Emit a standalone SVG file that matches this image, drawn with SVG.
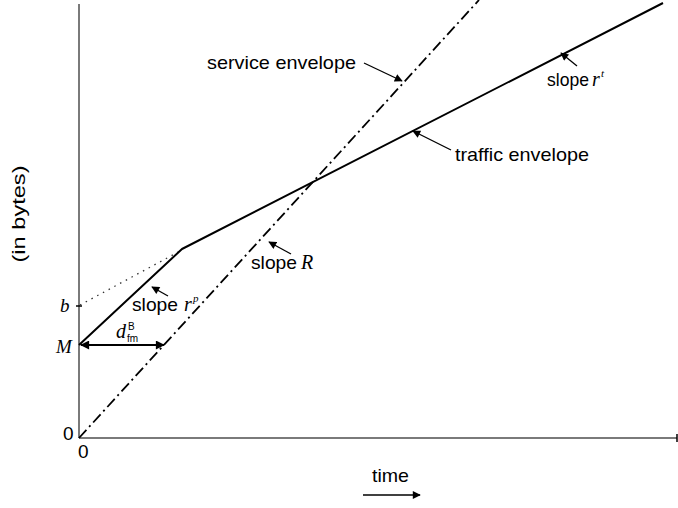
<svg xmlns="http://www.w3.org/2000/svg" width="678" height="508" viewBox="0 0 678 508">
  <style>
    .axis { stroke: #7a7a7a; stroke-width: 2; fill: none; }
    .tick { stroke: #000; stroke-width: 1.5; }
    .traffic { stroke: #000; stroke-width: 2; fill: none; stroke-linejoin: round; }
    .service { stroke: #000; stroke-width: 1.8; fill: none; stroke-dasharray: 11 4 2 4; }
    .dotted { stroke: #333; stroke-width: 1.3; fill: none; stroke-dasharray: 1.5 5; }
    .ptr { stroke: #000; stroke-width: 1.3; fill: none; marker-end: url(#head); }
    .lbl { font-family: "Liberation Sans", Arial, sans-serif; font-size: 19px; fill: #000; }
    .math { font-family: "Liberation Serif", "Times New Roman", serif; font-style: italic; fill: #000; }
    .small { font-family: "Liberation Sans", Arial, sans-serif; font-size: 10px; fill: #000; }
  </style>
  <defs>
    <marker id="head" viewBox="0 0 10 10" refX="9" refY="5" markerWidth="9" markerHeight="8" markerUnits="userSpaceOnUse" orient="auto">
      <path d="M0,0 L10,5 L0,10 z" fill="#000"/>
    </marker>
    <marker id="bighead" viewBox="0 0 10 10" refX="9" refY="5" markerWidth="11" markerHeight="9" markerUnits="userSpaceOnUse" orient="auto-start-reverse">
      <path d="M0,0 L10,5 L0,10 z" fill="#000"/>
    </marker>
  </defs>

  <!-- axes -->
  <g id="axes">
    <line class="axis" x1="79" y1="4" x2="79" y2="438"/>
    <line class="axis" x1="79" y1="438" x2="677" y2="438"/>
    <line class="tick" x1="677" y1="434" x2="677" y2="442"/>
    <line class="tick" x1="76" y1="306" x2="82" y2="306"/>
    <text class="lbl" x="63" y="440" font-size="17">0</text>
    <text class="lbl" x="78" y="458" font-size="17">0</text>
    <text class="lbl" transform="translate(25,214) rotate(-90)" text-anchor="middle" font-size="20" textLength="97" lengthAdjust="spacingAndGlyphs">(in bytes)</text>
    <text class="math" x="60" y="312" font-size="19">b</text>
    <text class="math" x="56" y="353" font-size="19">M</text>
  </g>

  <!-- envelopes -->
  <g id="connectors">
    <line class="dotted" x1="80" y1="305" x2="182" y2="250"/>
    <polyline class="traffic" points="79,345 182,249 663,3"/>
    <line class="service" x1="79" y1="438" x2="479" y2="0"/>
    <!-- delay arrow between M and the service envelope -->
    <line x1="81" y1="345" x2="164" y2="345" stroke="#000" stroke-width="2" marker-start="url(#bighead)" marker-end="url(#bighead)"/>
    <!-- label pointers -->
    <line class="ptr" x1="364" y1="63" x2="402" y2="81"/>
    <line class="ptr" x1="577" y1="66" x2="561" y2="53"/>
    <line class="ptr" x1="451" y1="150" x2="413" y2="131"/>
    <line class="ptr" x1="291" y1="254" x2="269" y2="242"/>
    <line class="ptr" x1="168" y1="296" x2="152" y2="287"/>
    <!-- time direction -->
    <line x1="363" y1="495" x2="420" y2="495" stroke="#000" stroke-width="1.3" marker-end="url(#head)"/>
  </g>

  <g id="label-service">
    <text class="lbl" x="207" y="69" textLength="149" lengthAdjust="spacingAndGlyphs">service envelope</text>
  </g>
  <g id="label-rt">
    <text class="lbl" x="547" y="86" textLength="42" lengthAdjust="spacingAndGlyphs">slope</text>
    <text class="math" x="592" y="86" font-size="20">r</text>
    <text class="math" x="601" y="77" font-size="11">t</text>
  </g>
  <g id="label-traffic">
    <text class="lbl" x="455" y="161" textLength="134" lengthAdjust="spacingAndGlyphs">traffic envelope</text>
  </g>
  <g id="label-R">
    <text class="lbl" x="251" y="269" textLength="46" lengthAdjust="spacingAndGlyphs">slope</text>
    <text class="math" x="301" y="269" font-size="20">R</text>
  </g>
  <g id="label-rp">
    <text class="lbl" x="132" y="311" textLength="46" lengthAdjust="spacingAndGlyphs">slope</text>
    <text class="math" x="184" y="311" font-size="20">r</text>
    <text class="math" x="193" y="302" font-size="11">p</text>
  </g>
  <g id="label-dfm">
    <text class="math" x="116" y="338" font-size="20">d</text>
    <text class="small" x="127" y="342">fm</text>
    <text class="small" x="128" y="330">B</text>
  </g>
  <g id="label-time">
    <text class="lbl" x="372" y="482" textLength="37" lengthAdjust="spacingAndGlyphs">time</text>
  </g>
</svg>
